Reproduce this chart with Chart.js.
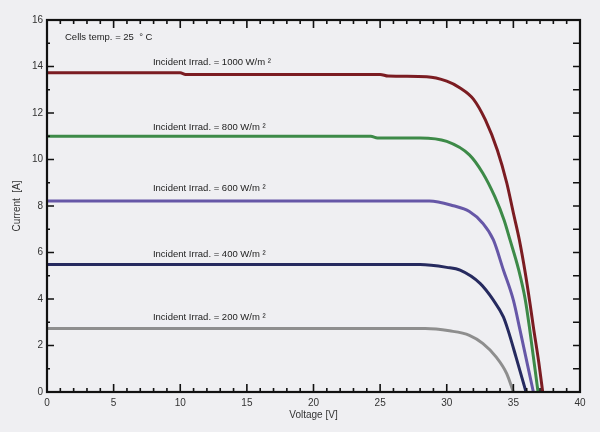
<!DOCTYPE html>
<html>
<head>
<meta charset="UTF-8">
<title>I-V curves</title>
<script src="https://cdn.jsdelivr.net/npm/chart.js"></script>
<style>
  html, body { margin: 0; padding: 0; background: #efeff2; }
  #wrap { width: 600px; height: 432px; }
</style>
</head>
<body>
<div id="wrap"><canvas id="ivChart" width="600" height="432"></canvas></div>
<script>
// Werte (Spannung in V, Strom in A)
const v1000 = [0, 10, 10.4, 25, 25.6, 28.5, 30, 31, 32, 32.9, 33.8, 34.5, 35.0, 35.45, 35.9, 36.25, 36.5, 36.9, 37.2];
const i1000 = [13.73, 13.73, 13.66, 13.66, 13.59, 13.56, 13.37, 13.08, 12.6, 11.7, 10.4, 9.0, 7.7, 6.54, 5.1, 3.8, 2.8, 1.3, 0];

const v800 = [0, 24.3, 24.8, 28, 30, 31.7, 32.7, 33.6, 34.3, 34.75, 35.4, 35.9, 36.2, 36.85];
const i800 = [11.0, 11.0, 10.93, 10.93, 10.78, 10.2, 9.42, 8.41, 7.4, 6.54, 5.25, 3.95, 2.8, 0];

const v600 = [0, 28.7, 30.5, 31.7, 32.7, 33.5, 34.25, 35.0, 35.5, 36.5];
const i600 = [8.22, 8.22, 8.01, 7.76, 7.26, 6.54, 5.25, 3.95, 2.66, 0];

const v400 = [0, 28, 30, 31.0, 32.5, 33.5, 34.25, 34.6, 35.2, 35.95];
const i400 = [5.48, 5.48, 5.36, 5.24, 4.67, 3.95, 3.23, 2.66, 1.5, 0];

const v200 = [0, 28.4, 30.2, 31.7, 32.7, 33.7, 34.5, 35.0];
const i200 = [2.73, 2.73, 2.63, 2.44, 2.09, 1.51, 0.79, 0];

const seriesNames = ['1000 W/m²', '800 W/m²', '600 W/m²', '400 W/m²', '200 W/m²'];
const seriesColors = ['#7b1c22', '#3d8a48', '#6657a7', '#262a5f', '#8e8e8e'];

// Beschriftungen im Diagramm (Text, V, A)
const noteTexts = [
    'Cells temp. = 25  ° C',
    'Incident Irrad. = 1000 W/m ²',
    'Incident Irrad. = 800 W/m ²',
    'Incident Irrad. = 600 W/m ²',
    'Incident Irrad. = 400 W/m ²',
    'Incident Irrad. = 200 W/m ²'
];
const noteV = [1.35, 7.95, 7.95, 7.95, 7.95, 7.95];
const noteI = [15.25, 14.17, 11.4, 8.74, 5.94, 3.21];

function toPoints(vs, is) {
    return vs.map((v, k) => ({ x: v, y: is[k] }));
}

const allV = [v1000, v800, v600, v400, v200];
const allI = [i1000, i800, i600, i400, i200];

const datasets = allV.map((vs, k) => ({
    label: seriesNames[k],
    data: toPoints(vs, allI[k]),
    borderColor: seriesColors[k],
    borderWidth: 3,
    pointRadius: 0,
    fill: false,
    cubicInterpolationMode: 'monotone'
}));

// Rahmen, Innen-Ticks und Textnotizen zeichnen
const framePlugin = {
    id: 'frame',
    afterDatasetsDraw(chart) {
        const ctx = chart.ctx;
        const a = chart.chartArea;
        const xs = chart.scales.x, ys = chart.scales.y;
        ctx.save();
        ctx.strokeStyle = '#111';
        ctx.lineWidth = 1.6;
        ctx.beginPath();
        for (let v = 1; v < 40; v++) {
            const px = xs.getPixelForValue(v);
            const len = v % 5 === 0 ? 8 : 4;
            ctx.moveTo(px, a.bottom); ctx.lineTo(px, a.bottom - len);
            ctx.moveTo(px, a.top); ctx.lineTo(px, a.top + len);
        }
        for (let i = 1; i < 16; i++) {
            const py = ys.getPixelForValue(i);
            const len = i % 2 === 0 ? 7 : 3;
            ctx.moveTo(a.left, py); ctx.lineTo(a.left + len, py);
            ctx.moveTo(a.right, py); ctx.lineTo(a.right - 7, py);
        }
        ctx.stroke();
        ctx.lineWidth = 2.2;
        ctx.strokeRect(a.left, a.top, a.right - a.left, a.bottom - a.top);

        ctx.fillStyle = '#222';
        ctx.font = '9.5px "Liberation Sans", Arial, sans-serif';
        ctx.textBaseline = 'middle';
        ctx.textAlign = 'left';
        noteTexts.forEach((t, k) => {
            ctx.fillText(t, xs.getPixelForValue(noteV[k]), ys.getPixelForValue(noteI[k]));
        });
        ctx.restore();
    }
};

Chart.defaults.font.family = '"Liberation Sans", Arial, sans-serif';
Chart.defaults.font.size = 10;
Chart.defaults.color = '#333';

new Chart(document.getElementById('ivChart').getContext('2d'), {
    type: 'line',
    data: { datasets: datasets },
    options: {
        responsive: false,
        animation: false,
        layout: { padding: { top: 20, right: 20, left: 0, bottom: 0 } },
        plugins: { legend: { display: false }, tooltip: { enabled: false } },
        scales: {
            x: {
                type: 'linear',
                min: 0, max: 40,
                ticks: { stepSize: 5, padding: 5, maxRotation: 0 },
                grid: { display: false, drawTicks: false },
                border: { display: false },
                title: { display: true, text: 'Voltage [V]', padding: { top: 0, bottom: 11 } },
                afterFit(scale) { scale.height = 40; }
            },
            y: {
                min: 0, max: 16,
                ticks: { stepSize: 2, padding: 4 },
                grid: { display: false, drawTicks: false },
                border: { display: false },
                title: { display: true, text: 'Current  [A]', padding: { top: 11, bottom: 0 } },
                afterFit(scale) { scale.width = 47; }
            }
        }
    },
    plugins: [framePlugin]
});
</script>
</body>
</html>
